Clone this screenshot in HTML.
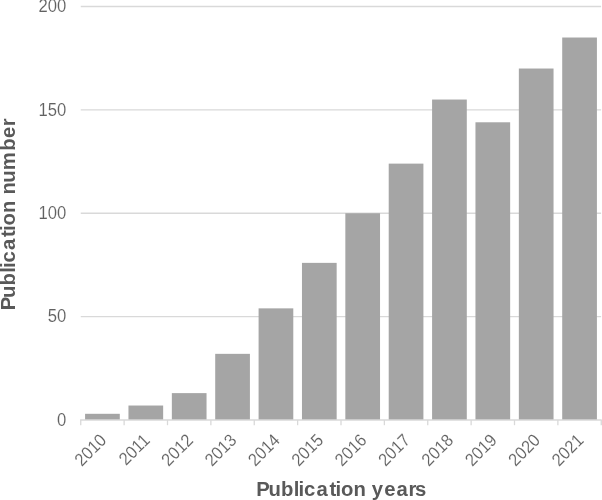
<!DOCTYPE html>
<html lang="en">
<head>
<meta charset="utf-8">
<title>Publication number by year</title>
<style>
html,body{margin:0;padding:0;background:#fff;}
body{width:602px;height:500px;overflow:hidden;}
svg{display:block;}
text{font-family:"Liberation Sans",sans-serif;fill:#595959;}
.tick{font-size:17.6px;fill:#616161;stroke:#fff;stroke-width:0.12px;}
.title{font-size:20.3px;font-weight:bold;}
</style>
</head>
<body>
<svg width="602" height="500" viewBox="0 0 602 500">
<rect width="602" height="500" fill="#fff"/>
<line x1="80.75" y1="6.50" x2="601.1" y2="6.50" stroke="#D9D9D9" stroke-width="1.3"/>
<line x1="80.75" y1="109.88" x2="601.1" y2="109.88" stroke="#D9D9D9" stroke-width="1.3"/>
<line x1="80.75" y1="213.25" x2="601.1" y2="213.25" stroke="#D9D9D9" stroke-width="1.3"/>
<line x1="80.75" y1="316.62" x2="601.1" y2="316.62" stroke="#D9D9D9" stroke-width="1.3"/>
<rect x="85.09" y="413.80" width="34.70" height="6.20" fill="#A5A5A5"/>
<rect x="128.46" y="405.53" width="34.70" height="14.47" fill="#A5A5A5"/>
<rect x="171.84" y="393.12" width="34.70" height="26.88" fill="#A5A5A5"/>
<rect x="215.21" y="353.84" width="34.70" height="66.16" fill="#A5A5A5"/>
<rect x="258.59" y="308.36" width="34.70" height="111.64" fill="#A5A5A5"/>
<rect x="301.96" y="262.87" width="34.70" height="157.13" fill="#A5A5A5"/>
<rect x="345.34" y="213.25" width="34.70" height="206.75" fill="#A5A5A5"/>
<rect x="388.71" y="163.63" width="34.70" height="256.37" fill="#A5A5A5"/>
<rect x="432.09" y="99.54" width="34.70" height="320.46" fill="#A5A5A5"/>
<rect x="475.46" y="122.28" width="34.70" height="297.72" fill="#A5A5A5"/>
<rect x="518.84" y="68.53" width="34.70" height="351.47" fill="#A5A5A5"/>
<rect x="562.21" y="37.51" width="34.70" height="382.49" fill="#A5A5A5"/>
<line x1="80.10" y1="420.00" x2="601.7" y2="420.00" stroke="#D9D9D9" stroke-width="1.3"/>
<line x1="80.75" y1="420.00" x2="80.75" y2="425.20" stroke="#D9D9D9" stroke-width="1.3"/>
<line x1="124.12" y1="420.00" x2="124.12" y2="425.20" stroke="#D9D9D9" stroke-width="1.3"/>
<line x1="167.50" y1="420.00" x2="167.50" y2="425.20" stroke="#D9D9D9" stroke-width="1.3"/>
<line x1="210.88" y1="420.00" x2="210.88" y2="425.20" stroke="#D9D9D9" stroke-width="1.3"/>
<line x1="254.25" y1="420.00" x2="254.25" y2="425.20" stroke="#D9D9D9" stroke-width="1.3"/>
<line x1="297.62" y1="420.00" x2="297.62" y2="425.20" stroke="#D9D9D9" stroke-width="1.3"/>
<line x1="341.00" y1="420.00" x2="341.00" y2="425.20" stroke="#D9D9D9" stroke-width="1.3"/>
<line x1="384.38" y1="420.00" x2="384.38" y2="425.20" stroke="#D9D9D9" stroke-width="1.3"/>
<line x1="427.75" y1="420.00" x2="427.75" y2="425.20" stroke="#D9D9D9" stroke-width="1.3"/>
<line x1="471.12" y1="420.00" x2="471.12" y2="425.20" stroke="#D9D9D9" stroke-width="1.3"/>
<line x1="514.50" y1="420.00" x2="514.50" y2="425.20" stroke="#D9D9D9" stroke-width="1.3"/>
<line x1="557.88" y1="420.00" x2="557.88" y2="425.20" stroke="#D9D9D9" stroke-width="1.3"/>
<line x1="601.25" y1="420.00" x2="601.25" y2="425.20" stroke="#D9D9D9" stroke-width="1.3"/>
<text class="tick" text-anchor="end" transform="translate(66.25 12.15) scale(0.947 1)">200</text>
<text class="tick" text-anchor="end" transform="translate(66.25 115.53) scale(0.947 1)">150</text>
<text class="tick" text-anchor="end" transform="translate(66.25 218.90) scale(0.947 1)">100</text>
<text class="tick" text-anchor="end" transform="translate(66.25 322.27) scale(0.947 1)">50</text>
<text class="tick" text-anchor="end" transform="translate(66.25 425.65) scale(0.947 1)">0</text>
<text class="tick" text-anchor="end" transform="translate(107.44 441.30) rotate(-45) scale(0.925 1)">2010</text>
<text class="tick" text-anchor="end" transform="translate(150.81 441.30) rotate(-45) scale(0.925 1)">2011</text>
<text class="tick" text-anchor="end" transform="translate(194.19 441.30) rotate(-45) scale(0.925 1)">2012</text>
<text class="tick" text-anchor="end" transform="translate(237.56 441.30) rotate(-45) scale(0.925 1)">2013</text>
<text class="tick" text-anchor="end" transform="translate(280.94 441.30) rotate(-45) scale(0.925 1)">2014</text>
<text class="tick" text-anchor="end" transform="translate(324.31 441.30) rotate(-45) scale(0.925 1)">2015</text>
<text class="tick" text-anchor="end" transform="translate(367.69 441.30) rotate(-45) scale(0.925 1)">2016</text>
<text class="tick" text-anchor="end" transform="translate(411.06 441.30) rotate(-45) scale(0.925 1)">2017</text>
<text class="tick" text-anchor="end" transform="translate(454.44 441.30) rotate(-45) scale(0.925 1)">2018</text>
<text class="tick" text-anchor="end" transform="translate(497.81 441.30) rotate(-45) scale(0.925 1)">2019</text>
<text class="tick" text-anchor="end" transform="translate(541.19 441.30) rotate(-45) scale(0.925 1)">2020</text>
<text class="tick" text-anchor="end" transform="translate(584.56 441.30) rotate(-45) scale(0.925 1)">2021</text>
<text class="title" y="495.8" x="256.30 268.41 280.97 293.66 298.44 303.91 316.57 329.47 335.49 341.00 353.51 365.91 371.83 384.21 396.39 408.48 415.11">Publication years</text>
<text class="title" y="0" x="256.30 268.41 280.97 293.66 298.44 303.91 316.57 329.47 335.49 341.00 353.51 365.91 372.06 383.84 396.34 415.85 428.61 440.18" transform="translate(15.1 566.5) rotate(-90)">Publication number</text>
</svg>
</body>
</html>
